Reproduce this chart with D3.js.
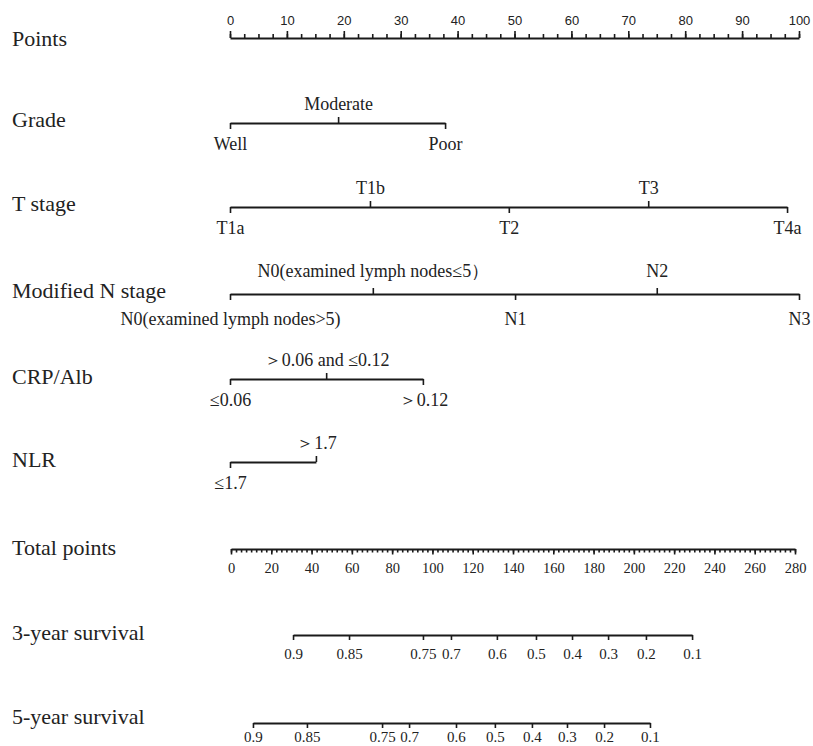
<!DOCTYPE html>
<html>
<head>
<meta charset="utf-8">
<script src="https://cdn.jsdelivr.net/npm/d3@7"></script>
<style>
  body { margin: 0; background: #fff; }
  .row-label { font-family: "Liberation Serif", "Times New Roman", serif; font-size: 22px; fill: #222; }
  .cat text { font-family: "Liberation Serif", serif; font-size: 18px; fill: #222; }
  .pts text { font-family: "Liberation Sans", Arial, sans-serif; font-size: 13px; fill: #222; }
  .tot text { font-family: "Liberation Serif", serif; font-size: 14.5px; fill: #222; }
  .surv text { font-family: "Liberation Serif", serif; font-size: 15px; fill: #222; }
  .domain { stroke: #1a1a1a; stroke-width: 2; }
  .tick line { stroke: #1a1a1a; stroke-width: 1.6; }
</style>
</head>
<body>
<div id="chart"></div>
<script>
// nomogram values (points per category)
var gradeLabels = ["Well", "Moderate", "Poor"];
var gradePoints = [0, 19, 37.8];

var tLabels = ["T1a", "T1b", "T2", "T3", "T4a"];
var tPoints = [0, 24.6, 49, 73.5, 97.9];

var nLabels = ["N0(examined lymph nodes>5)", "N0(examined lymph nodes\u22645\uFF09", "N1", "N2", "N3"];
var nPoints = [0, 25.1, 50.1, 75, 100];

var crpLabels = ["\u22640.06", "\uFF1E0.06 and \u22640.12", "\uFF1E0.12"];
var crpPoints = [0, 16.9, 33.9];

var nlrLabels = ["\u22641.7", "\uFF1E1.7"];
var nlrPoints = [0, 15.1];

// survival probability ticks, as total points
var survLabels = ["0.9", "0.85", "0.75", "0.7", "0.6", "0.5", "0.4", "0.3", "0.2", "0.1"];
var surv3Total = [30.8, 58.6, 95.3, 109.2, 132, 151.4, 169.3, 187.2, 206, 228.9];
var surv5Total = [10.9, 37.7, 75, 88.4, 111.7, 131, 149.4, 166.8, 185.2, 208];

var width = 813, height = 746;

var svg = d3.select("#chart").append("svg")
    .attr("width", width)
    .attr("height", height);

var xPts = d3.scaleLinear().domain([0, 100]).range([230, 799]);
var xTot = d3.scaleLinear().domain([0, 280]).range([231, 795]);

function rowLabel(text, y) {
    svg.append("text").attr("class", "row-label")
        .attr("x", 12).attr("y", y).text(text);
}

// Points
rowLabel("Points", 46);
var pts = svg.append("g").attr("class", "pts").attr("transform", "translate(0,38)");
pts.append("g").call(d3.axisTop(xPts).tickValues(d3.range(0, 100.1, 2.5))
    .tickSize(4).tickSizeOuter(0).tickFormat(""));
pts.append("g").call(d3.axisTop(xPts).tickValues(d3.range(0, 101, 10))
    .tickSize(7).tickSizeOuter(0).tickPadding(6))
    .select(".domain").remove();

// categorical rows: labels alternate below / above the line
function catRow(name, labels, points, y, labelY, padUp, padDown) {
    rowLabel(name, labelY);
    var maxP = d3.max(points);
    var sc = d3.scaleLinear().domain([0, maxP]).range([xPts(0), xPts(maxP)]);
    var g = svg.append("g").attr("class", "cat").attr("transform", "translate(0," + y + ")");
    var below = points.filter(function (d, i) { return i % 2 === 0; });
    var above = points.filter(function (d, i) { return i % 2 === 1; });
    g.append("g").call(d3.axisBottom(sc).tickValues(below).tickSize(6).tickSizeOuter(0)
        .tickPadding(padDown)
        .tickFormat(function (d) { return labels[points.indexOf(d)]; }));
    g.append("g").call(d3.axisTop(sc).tickValues(above).tickSize(6).tickSizeOuter(0)
        .tickPadding(padUp)
        .tickFormat(function (d) { return labels[points.indexOf(d)]; }))
        .select(".domain").remove();
}

catRow("Grade", gradeLabels, gradePoints, 123, 127, 7, 8);
catRow("T stage", tLabels, tPoints, 207, 211, 7, 8);
catRow("Modified N stage", nLabels, nPoints, 294, 298, 11, 12);
catRow("CRP/Alb", crpLabels, crpPoints, 379, 384, 7, 8);
catRow("NLR", nlrLabels, nlrPoints, 462, 467, 7, 8);

// Total points
rowLabel("Total points", 555);
var tot = svg.append("g").attr("class", "tot").attr("transform", "translate(0,549)");
tot.append("g").call(d3.axisBottom(xTot).tickValues(d3.range(0, 280.1, 2.5))
    .tickSize(3.5).tickSizeOuter(0).tickFormat(""));
tot.append("g").call(d3.axisBottom(xTot).tickValues(d3.range(0, 281, 20))
    .tickSize(5.5).tickSizeOuter(0).tickPadding(8))
    .select(".domain").remove();

// survival scales
function survRow(name, totals, y, labelY, pad) {
    rowLabel(name, labelY);
    var sc = d3.scaleLinear().domain([d3.min(totals), d3.max(totals)])
        .range([xTot(d3.min(totals)), xTot(d3.max(totals))]);
    svg.append("g").attr("class", "surv").attr("transform", "translate(0," + y + ")")
        .call(d3.axisBottom(sc).tickValues(totals).tickSize(5).tickSizeOuter(0).tickPadding(pad)
            .tickFormat(function (d) { return survLabels[totals.indexOf(d)]; }));
}

survRow("3-year survival", surv3Total, 635, 640, 8);
survRow("5-year survival", surv5Total, 723, 724, 3);
</script>
</body>
</html>
